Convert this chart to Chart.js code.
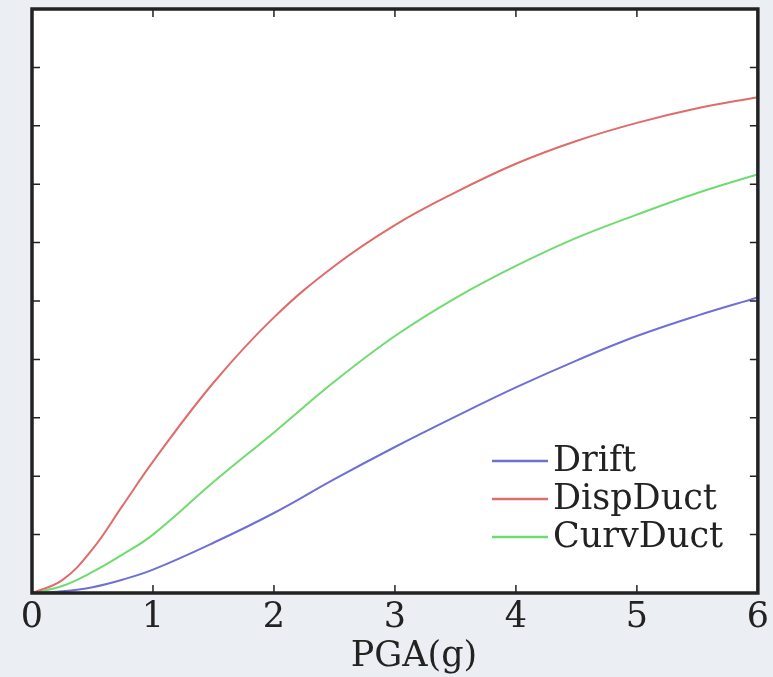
<!DOCTYPE html>
<html>
<head>
<meta charset="utf-8">
<script src="https://cdn.jsdelivr.net/npm/chart.js@4/dist/chart.umd.min.js"></script>
<style>
html, body { margin: 0; padding: 0; background: #edf0f3; }
#wrap { width: 773px; height: 677px; }
</style>
</head>
<body>
<div id="wrap"><canvas id="chart"></canvas></div>
<script>
// Dữ liệu
const pga = [0, 0.25, 0.5, 0.75, 1, 1.5, 2, 2.5, 3, 3.5, 4, 4.5, 5, 5.5, 6];
const drift = [0, 0.003, 0.01, 0.023, 0.04, 0.086, 0.137, 0.195, 0.25, 0.302, 0.352, 0.398, 0.44, 0.475, 0.506];
const dispDuct = [0, 0.022, 0.075, 0.15, 0.225, 0.36, 0.472, 0.56, 0.63, 0.686, 0.735, 0.774, 0.805, 0.83, 0.849];
const curvDuct = [0, 0.012, 0.036, 0.066, 0.1, 0.19, 0.275, 0.362, 0.44, 0.505, 0.56, 0.608, 0.648, 0.685, 0.717];
const xTicks = [0, 1, 2, 3, 4, 5, 6];
const yTicks = [0, 0.1, 0.2, 0.3, 0.4, 0.5, 0.6, 0.7, 0.8, 0.9, 1];
const xTitle = 'PGA(g)';

const SERIF = '"DejaVu Serif", serif';

function toPoints(ys) {
    return pga.map((x, i) => ({ x: x, y: ys[i] }));
}

// Nền, khung, vạch chia và chú thích
const framePlugin = {
    id: 'frame',
    beforeDraw(chart) {
        const { ctx, chartArea: a } = chart;
        ctx.save();
        ctx.fillStyle = '#ebeef2';
        ctx.fillRect(0, 0, chart.width, chart.height);
        ctx.fillStyle = '#ffffff';
        ctx.fillRect(a.left, a.top, a.right - a.left, a.bottom - a.top);
        ctx.restore();
    },
    afterDraw(chart) {
        const { ctx, chartArea: a, scales } = chart;
        ctx.save();
        ctx.strokeStyle = '#222';
        ctx.lineWidth = 1.5;
        xTicks.forEach(v => {
            const px = scales.x.getPixelForValue(v);
            ctx.beginPath();
            ctx.moveTo(px, a.bottom); ctx.lineTo(px, a.bottom - 8);
            ctx.moveTo(px, a.top); ctx.lineTo(px, a.top + 8);
            ctx.stroke();
        });
        yTicks.forEach(v => {
            const py = scales.y.getPixelForValue(v);
            ctx.beginPath();
            ctx.moveTo(a.left, py); ctx.lineTo(a.left + 8, py);
            ctx.moveTo(a.right, py); ctx.lineTo(a.right - 8, py);
            ctx.stroke();
        });
        ctx.lineWidth = 3.5;
        ctx.strokeRect(a.left, a.top, a.right - a.left, a.bottom - a.top);

        // tiêu đề trục x
        ctx.fillStyle = '#222';
        ctx.font = '35px ' + SERIF;
        ctx.textAlign = 'center';
        ctx.textBaseline = 'alphabetic';
        ctx.fillText(xTitle, 414, 666);

        // chú thích
        ctx.textAlign = 'left';
        ctx.textBaseline = 'middle';
        const rows = [461, 499, 537];
        chart.data.datasets.forEach((ds, i) => {
            const y = rows[i];
            ctx.strokeStyle = ds.borderColor;
            ctx.lineWidth = 2.5;
            ctx.beginPath();
            ctx.moveTo(492, y); ctx.lineTo(548, y);
            ctx.stroke();
            ctx.fillStyle = '#222';
            ctx.fillText(ds.label, 553, y + 1);
        });
        ctx.restore();
    }
};

new Chart(document.getElementById('chart'), {
    type: 'line',
    data: {
        datasets: [
            { label: 'Drift', data: toPoints(drift), borderColor: '#6f6fd6' },
            { label: 'DispDuct', data: toPoints(dispDuct), borderColor: '#e06b6b' },
            { label: 'CurvDuct', data: toPoints(curvDuct), borderColor: '#6fdc6f' }
        ].map(d => Object.assign(d, {
            borderWidth: 2,
            pointRadius: 0,
            fill: false,
            tension: 0.4
        }))
    },
    options: {
        responsive: true,
        maintainAspectRatio: false,
        animation: false,
        layout: { padding: { left: 32, right: 15, top: 9, bottom: 0 } },
        plugins: { legend: { display: false }, tooltip: { enabled: false } },
        scales: {
            x: {
                type: 'linear',
                min: 0,
                max: 6,
                afterFit: s => { s.height = 84; },
                afterBuildTicks: s => { s.ticks = xTicks.map(v => ({ value: v })); },
                grid: { display: false, drawTicks: false },
                border: { display: false },
                ticks: {
                    padding: 4,
                    color: '#222',
                    font: { family: SERIF, size: 35 }
                }
            },
            y: {
                min: 0,
                max: 1,
                afterFit: s => { s.width = 0; },
                afterBuildTicks: s => { s.ticks = yTicks.map(v => ({ value: v })); },
                grid: { display: false, drawTicks: false },
                border: { display: false },
                ticks: { display: false }
            }
        }
    },
    plugins: [framePlugin]
});
</script>
</body>
</html>
